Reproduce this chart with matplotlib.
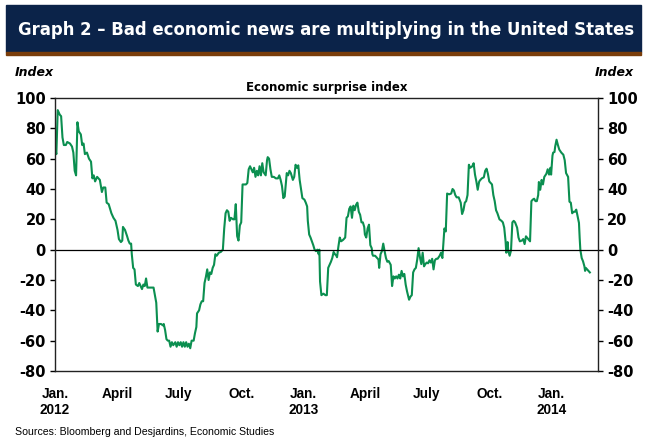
import matplotlib
matplotlib.use("Agg")
import matplotlib.pyplot as plt
import pandas as pd

plt.rcParams['font.family'] = ['Liberation Sans', 'DejaVu Sans']
plt.rcParams['axes.unicode_minus'] = False
WIDE = ['DejaVu Sans']  # the reference text is drawn wider than Arial

dates = [
    "2012-01-02", "2012-01-03", "2012-01-05", "2012-01-08", "2012-01-10", "2012-01-12", "2012-01-14",
    "2012-01-17", "2012-01-19", "2012-01-23", "2012-01-26", "2012-01-28", "2012-01-30", "2012-02-01",
    "2012-02-03", "2012-02-05", "2012-02-08", "2012-02-10", "2012-02-12", "2012-02-14", "2012-02-17",
    "2012-02-20", "2012-02-23", "2012-02-25", "2012-02-27", "2012-02-29", "2012-03-03", "2012-03-07",
    "2012-03-10", "2012-03-12", "2012-03-15", "2012-03-17", "2012-03-20", "2012-03-24", "2012-03-27",
    "2012-03-30", "2012-04-02", "2012-04-04", "2012-04-07", "2012-04-09", "2012-04-10", "2012-04-13",
    "2012-04-16", "2012-04-18", "2012-04-20", "2012-04-22", "2012-04-23", "2012-04-25", "2012-04-27",
    "2012-04-29", "2012-05-02", "2012-05-04", "2012-05-06", "2012-05-08", "2012-05-10", "2012-05-12",
    "2012-05-14", "2012-05-16", "2012-05-18", "2012-05-22", "2012-05-25", "2012-05-27", "2012-05-29",
    "2012-05-31", "2012-06-02", "2012-06-05", "2012-06-08", "2012-06-09", "2012-06-11", "2012-06-13",
    "2012-06-15", "2012-06-17", "2012-06-19", "2012-06-21", "2012-06-23", "2012-06-26", "2012-06-28",
    "2012-06-30", "2012-07-02", "2012-07-04", "2012-07-06", "2012-07-08", "2012-07-10", "2012-07-12",
    "2012-07-14", "2012-07-16", "2012-07-18", "2012-07-20", "2012-07-23", "2012-07-25", "2012-07-27",
    "2012-07-28", "2012-07-31", "2012-08-02", "2012-08-04", "2012-08-06", "2012-08-08", "2012-08-10",
    "2012-08-12", "2012-08-14", "2012-08-16", "2012-08-18", "2012-08-20", "2012-08-22", "2012-08-24",
    "2012-08-26", "2012-08-29", "2012-09-01", "2012-09-04", "2012-09-06", "2012-09-08", "2012-09-10",
    "2012-09-12", "2012-09-14", "2012-09-16", "2012-09-19", "2012-09-21", "2012-09-23", "2012-09-25",
    "2012-09-27", "2012-09-29", "2012-10-01", "2012-10-03", "2012-10-05", "2012-10-08", "2012-10-10",
    "2012-10-12", "2012-10-14", "2012-10-16", "2012-10-18", "2012-10-20", "2012-10-22", "2012-10-24",
    "2012-10-26", "2012-10-28", "2012-10-30", "2012-11-01", "2012-11-03", "2012-11-06", "2012-11-08",
    "2012-11-09", "2012-11-11", "2012-11-13", "2012-11-15", "2012-11-18", "2012-11-21", "2012-11-24",
    "2012-11-26", "2012-11-28", "2012-11-30", "2012-12-02", "2012-12-04", "2012-12-07", "2012-12-09",
    "2012-12-11", "2012-12-13", "2012-12-16", "2012-12-18", "2012-12-20", "2012-12-22", "2012-12-24",
    "2012-12-26", "2012-12-28", "2012-12-30", "2013-01-02", "2013-01-04", "2013-01-06", "2013-01-07",
    "2013-01-09", "2013-01-11", "2013-01-13", "2013-01-15", "2013-01-17", "2013-01-19", "2013-01-21",
    "2013-01-23", "2013-01-24", "2013-01-25", "2013-01-27", "2013-01-30", "2013-02-02", "2013-02-04",
    "2013-02-06", "2013-02-08", "2013-02-10", "2013-02-12", "2013-02-14", "2013-02-16", "2013-02-18",
    "2013-02-19", "2013-02-21", "2013-02-23", "2013-02-25", "2013-02-28", "2013-03-03", "2013-03-05",
    "2013-03-07", "2013-03-09", "2013-03-11", "2013-03-13", "2013-03-15", "2013-03-17", "2013-03-19",
    "2013-03-21", "2013-03-23", "2013-03-25", "2013-03-27", "2013-03-29", "2013-03-31", "2013-04-01",
    "2013-04-03", "2013-04-05", "2013-04-07", "2013-04-09", "2013-04-11", "2013-04-12", "2013-04-13",
    "2013-04-16", "2013-04-19", "2013-04-21", "2013-04-22", "2013-04-24", "2013-04-26", "2013-04-28",
    "2013-04-30", "2013-05-02", "2013-05-04", "2013-05-06", "2013-05-09", "2013-05-11", "2013-05-13",
    "2013-05-15", "2013-05-17", "2013-05-19", "2013-05-21", "2013-05-23", "2013-05-25", "2013-05-27",
    "2013-05-29", "2013-05-31", "2013-06-02", "2013-06-04", "2013-06-05", "2013-06-07", "2013-06-09",
    "2013-06-11", "2013-06-13", "2013-06-15", "2013-06-17", "2013-06-19", "2013-06-21", "2013-06-23",
    "2013-06-25", "2013-06-27", "2013-06-29", "2013-07-01", "2013-07-03", "2013-07-05", "2013-07-07",
    "2013-07-09", "2013-07-11", "2013-07-13", "2013-07-15", "2013-07-17", "2013-07-20", "2013-07-22",
    "2013-07-24", "2013-07-25", "2013-07-27", "2013-07-29", "2013-07-31", "2013-08-03", "2013-08-06",
    "2013-08-08", "2013-08-10", "2013-08-12", "2013-08-14", "2013-08-17", "2013-08-20", "2013-08-22",
    "2013-08-24", "2013-08-26", "2013-08-28", "2013-08-30", "2013-09-01", "2013-09-03", "2013-09-06",
    "2013-09-08", "2013-09-10", "2013-09-12", "2013-09-14", "2013-09-16", "2013-09-17", "2013-09-20",
    "2013-09-23", "2013-09-25", "2013-09-27", "2013-09-29", "2013-10-01", "2013-10-03", "2013-10-05",
    "2013-10-07", "2013-10-09", "2013-10-11", "2013-10-13", "2013-10-16", "2013-10-19", "2013-10-21",
    "2013-10-23", "2013-10-25", "2013-10-26", "2013-10-28", "2013-10-29", "2013-10-31", "2013-11-02",
    "2013-11-04", "2013-11-06", "2013-11-08", "2013-11-11", "2013-11-13", "2013-11-15", "2013-11-18",
    "2013-11-20", "2013-11-22", "2013-11-24", "2013-11-26", "2013-11-28", "2013-11-30", "2013-12-02",
    "2013-12-04", "2013-12-06", "2013-12-08", "2013-12-10", "2013-12-12", "2013-12-13", "2013-12-15",
    "2013-12-17", "2013-12-19", "2013-12-21", "2013-12-24", "2013-12-26", "2013-12-28", "2013-12-30",
    "2013-12-31", "2014-01-02", "2014-01-03", "2014-01-05", "2014-01-06", "2014-01-08", "2014-01-10",
    "2014-01-12", "2014-01-15", "2014-01-18", "2014-01-20", "2014-01-22", "2014-01-25", "2014-01-27",
    "2014-01-29", "2014-01-31", "2014-02-02", "2014-02-04", "2014-02-06", "2014-02-08", "2014-02-10",
    "2014-02-11", "2014-02-12", "2014-02-14", "2014-02-16", "2014-02-18", "2014-02-19", "2014-02-20",
    "2014-02-22", "2014-02-24", "2014-02-26",
]

surprise = [
    65, 63, 92, 89, 88, 74, 69,
    69, 71, 70, 68, 64, 52, 49,
    84, 78, 76, 69, 70, 63, 64,
    60, 58, 47, 49, 45, 48, 46,
    38, 41, 41, 31, 30, 24, 21,
    19, 13, 7, 5, 6, 15, 13,
    9, 6, 4, 4, -3, -12, -13,
    -23, -24, -22, -24, -26, -23, -24,
    -19, -25, -25, -25, -25, -30, -35,
    -54, -49, -49, -50, -49, -53, -59,
    -60, -60, -64, -61, -63, -61, -64,
    -61, -63, -61, -64, -61, -64, -61,
    -64, -62, -65, -60, -60, -55, -51,
    -42, -40, -36, -34, -34, -22, -18,
    -13, -20, -15, -16, -12, -10, -3,
    -4, -2, -1.5, 0, 14, 24, 26,
    25, 19, 21, 20, 20, 30, 9,
    6, 16, 18, 43, 43, 43, 44,
    53, 55, 53, 51, 54, 48, 52,
    49, 55, 49, 57, 51, 49, 59,
    61, 60, 53, 48, 48, 47, 47,
    49, 46, 42, 34, 35, 50.5, 49,
    52, 50.5, 46, 48, 56, 54, 55.6,
    46, 40, 34, 33, 31, 28.5, 19,
    10, 8, 5.5, 3, 0, -1, 0,
    -3, 0, -21, -30, -29, -30, -30,
    -12, -10, -8, -5.5, -1.5, -3, -4,
    -5, 2, 8, 5.5, 6.5, 8, 21,
    22, 27, 28.5, 21, 29, 26, 29.6,
    31, 25, 23, 18, 18, 15, 10,
    8, 14, 16.5, 3, 1, -3, -4,
    -4, -5.5, -6.5, -12, -3, -1, 4,
    -1, -5.5, -8, -7.5, -10, -24, -17.6,
    -19, -17.6, -19, -16.5, -19, -14, -17.6,
    -16, -23, -27.5, -31, -33, -31, -30,
    -15, -13, -12, -6.5, 1, -5, -9.5,
    -2, -11, -9.5, -8.5, -9, -7, -8.5,
    -6, -13, -7, -6, -6, -4, -2,
    -5.5, 1, 14, 12, 37, 36.5, 37,
    40, 39, 36, 34.5, 34.5, 31, 23.5,
    26, 31, 32, 36, 56, 54, 55,
    57, 49.5, 45, 39.5, 44.6, 45.5, 47,
    47.7, 52, 53.4, 50, 45, 44, 43,
    36, 32, 26, 24, 20, 19, 18,
    14.5, 5.5, -2, 5, -1, -4, -0.5,
    18, 19, 18, 14.5, 8, 5.5, 6,
    7, 3.7, 8.8, 7.7, 6.6, 5.5, 32,
    33, 33.6, 32, 32, 36, 44.6, 39.5,
    46, 43, 48, 50, 53, 49.5, 54,
    49.5, 62, 64, 64.4, 68, 72.5, 69,
    66, 64, 62.6, 59, 50.5, 48, 31.6,
    31, 24, 25, 25, 26.4, 22, 17.6,
    8, 0, -5.5, -7.7, -11, -14, -12,
    -13, -14, -15,
]

tick_dates = ["2012-01-01", "2012-04-01", "2012-07-01", "2012-10-01", "2013-01-01",
              "2013-04-01", "2013-07-01", "2013-10-01", "2014-01-01"]
tick_labels = ["Jan.\n2012", "April", "July", "Oct.", "Jan.\n2013",
               "April", "July", "Oct.", "Jan.\n2014"]
y_ticks = [-80, -60, -40, -20, 0, 20, 40, 60, 80, 100]

x = pd.to_datetime(dates)

fig = plt.figure(figsize=(6.46, 4.40), dpi=100)

# title banner
fig.patches.append(plt.Rectangle((6 / 646, 1 - 52 / 440), 635 / 646, 47 / 440,
                                 transform=fig.transFigure, color='#0b2349', zorder=0))
fig.patches.append(plt.Rectangle((6 / 646, 1 - 55 / 440), 635 / 646, 3 / 440,
                                 transform=fig.transFigure, color='#7a3d0a', zorder=0))
fig.text(18 / 646, 1 - 30 / 440, "Graph 2 \u2013 Bad economic news are multiplying in the United States",
         color='white', fontsize=11.9, fontweight='bold', family=WIDE, va='center', ha='left')

ax = fig.add_axes([55 / 646, 1 - 371 / 440, 543 / 646, 273 / 440])
ax.plot(x, surprise, color='#0b8f50', lw=1.5)
ax.axhline(0, color='black', lw=0.9)

ax.set_ylim(-80, 100)
ax.set_yticks(y_ticks)
ax.set_xlim(pd.Timestamp("2012-01-01"), pd.Timestamp("2014-03-10"))
ax.set_xticks(pd.to_datetime(tick_dates))
ax.set_xticklabels(tick_labels)

ax.tick_params(axis='y', direction='out', length=3.5, width=1, left=True, right=True,
               labelleft=True, labelright=True, pad=3)
ax.tick_params(axis='x', length=0, labelsize=9.8, pad=11.5)
for lbl in ax.get_xticklabels():
    lbl.set_fontweight('bold')
for t in ax.yaxis.get_major_ticks():
    for lbl in (t.label1, t.label2):
        lbl.set_fontweight('bold')
        lbl.set_family(WIDE)
        lbl.set_fontsize(10.5)
for sp in ax.spines.values():
    sp.set_linewidth(1.0)
    sp.set_color('#222222')

fig.text(15 / 646, 1 - 73 / 440, "Index", fontsize=9, fontweight='bold', style='italic',
         family=WIDE, va='center', ha='left')
fig.text(634 / 646, 1 - 73 / 440, "Index", fontsize=9, fontweight='bold', style='italic',
         family=WIDE, va='center', ha='right')
fig.text(327 / 646, 1 - 88 / 440, "Economic surprise index", fontsize=8.5, fontweight='bold',
         family=WIDE, va='center', ha='center')
fig.text(15 / 646, 1 - 432 / 440, "Sources: Bloomberg and Desjardins, Economic Studies",
         fontsize=7.6, va='center', ha='left')

fig.savefig("out.png", dpi=100)
